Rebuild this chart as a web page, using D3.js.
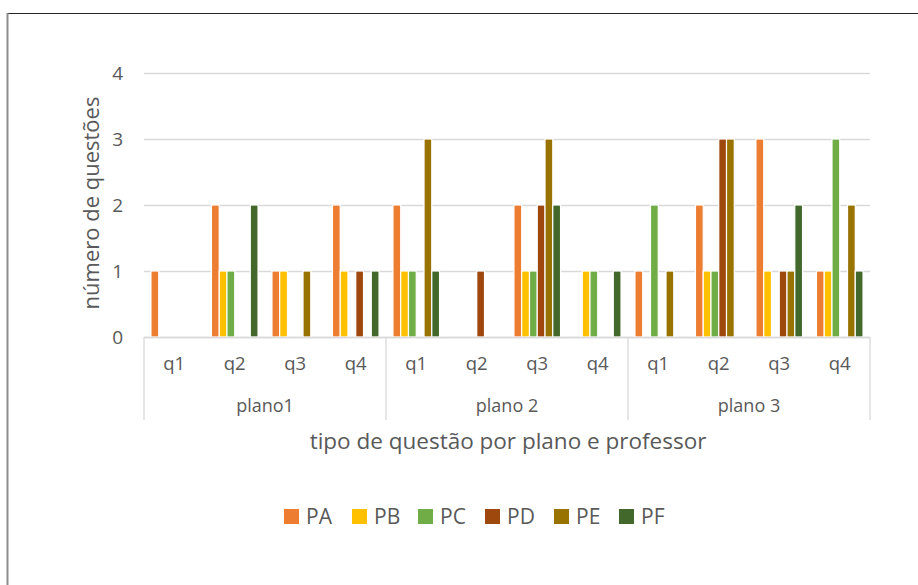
<!DOCTYPE html>
<html>
<head>
<meta charset="utf-8">
<script src="https://cdn.jsdelivr.net/npm/d3@7"></script>
<style>
  body { margin: 0; background: #fff; }
  text { font-family: "Open Sans", "Liberation Sans", sans-serif; fill: #595959; }
</style>
</head>
<body>
<div id="chart"></div>
<script>
// data
const planos = ["plano1", "plano 2", "plano 3"];
const questoes = ["q1", "q2", "q3", "q4"];
const professores = ["PA", "PB", "PC", "PD", "PE", "PF"];
const cores = ["#ED7D31", "#FFC000", "#70AD47", "#9E480E", "#997300", "#43682B"];

// one row per plano/questão, values in order PA..PF
const plano1 = [
  [1, 0, 0, 0, 0, 0],
  [2, 1, 1, 0, 0, 2],
  [1, 1, 0, 0, 1, 0],
  [2, 1, 0, 1, 0, 1]
];
const plano2 = [
  [2, 1, 1, 0, 3, 1],
  [0, 0, 0, 1, 0, 0],
  [2, 1, 1, 2, 3, 2],
  [0, 1, 1, 0, 0, 1]
];
const plano3 = [
  [1, 0, 2, 0, 1, 0],
  [2, 1, 1, 3, 3, 0],
  [3, 1, 0, 1, 1, 2],
  [1, 1, 3, 0, 2, 1]
];
const yTicks = [0, 1, 2, 3, 4];

const width = 918, height = 585;
const margin = { top: 73, right: 48, bottom: 248, left: 144 };
const plotW = width - margin.left - margin.right;
const plotH = height - margin.top - margin.bottom;

const svg = d3.select("#chart").append("svg")
  .attr("width", width)
  .attr("height", height);

// chart frame (only top and left edges show in the reference)
svg.append("line").attr("x1", 7).attr("x2", width).attr("y1", 13.5).attr("y2", 13.5)
  .attr("stroke", "#262626").attr("stroke-width", 1);
svg.append("line").attr("x1", 7.5).attr("x2", 7.5).attr("y1", 13).attr("y2", height)
  .attr("stroke", "#8c8c8c").attr("stroke-width", 2);

const g = svg.append("g").attr("transform", `translate(${margin.left},${margin.top})`);

// flatten into categories
const rows = [];
[plano1, plano2, plano3].forEach((p, pi) => {
  p.forEach((vals, qi) => {
    rows.push({ key: pi + "-" + qi, plano: planos[pi], q: questoes[qi], vals });
  });
});

const x0 = d3.scaleBand().domain(rows.map(d => d.key)).range([0, plotW])
  .paddingInner(0.23).paddingOuter(0.115);
const x1 = d3.scaleBand().domain(professores).range([0, x0.bandwidth()]);
const y = d3.scaleLinear().domain([0, 4]).range([plotH, 0]);
const color = d3.scaleOrdinal().domain(professores).range(cores);

// gridlines
g.append("g").selectAll("line").data(yTicks).join("line")
  .attr("x1", 0).attr("x2", plotW)
  .attr("y1", d => Math.round(y(d)) + 0.5).attr("y2", d => Math.round(y(d)) + 0.5)
  .attr("stroke", "#d9d9d9").attr("stroke-width", 1.3);

// y tick labels
g.append("g").selectAll("text").data(yTicks).join("text")
  .attr("x", -21).attr("y", d => y(d))
  .attr("dy", "0.35em")
  .attr("text-anchor", "end")
  .style("font-size", "19px")
  .text(d => d);

// bars
const groups = g.append("g").selectAll("g").data(rows).join("g")
  .attr("transform", d => `translate(${x0(d.key)},0)`);
groups.selectAll("rect")
  .data(d => d.vals.map((v, i) => ({ prof: professores[i], v })).filter(e => e.v > 0))
  .join("rect")
  .attr("x", d => x1(d.prof))
  .attr("y", d => y(d.v))
  .attr("width", x1.bandwidth())
  .attr("height", d => y(0) - y(d.v))
  .attr("fill", d => color(d.prof))
  .attr("stroke", "#fff")
  .attr("stroke-width", 1.2);

// category axis (two levels)
const stepQ = plotW / rows.length;
const axis = g.append("g").attr("transform", `translate(0,${plotH})`);
axis.append("line").attr("x1", 0).attr("x2", plotW).attr("y1", 0.5).attr("y2", 0.5)
  .attr("stroke", "#d9d9d9").attr("stroke-width", 1.3);
const seps = d3.range(planos.length + 1).map(i => i * plotW / planos.length);
axis.selectAll(".sep").data(seps).join("line")
  .attr("class", "sep")
  .attr("x1", d => d).attr("x2", d => d)
  .attr("y1", 0).attr("y2", 83)
  .attr("stroke", "#d9d9d9").attr("stroke-width", 1.3);
axis.selectAll(".ql").data(rows).join("text")
  .attr("class", "ql")
  .attr("x", (d, i) => stepQ * (i + 0.5))
  .attr("y", 27).attr("dy", "0.35em")
  .attr("text-anchor", "middle")
  .style("font-size", "18.5px")
  .text(d => d.q);
axis.selectAll(".pl").data(planos).join("text")
  .attr("class", "pl")
  .attr("x", (d, i) => (i + 0.5) * plotW / planos.length)
  .attr("y", 69).attr("dy", "0.35em")
  .attr("text-anchor", "middle")
  .style("font-size", "18px")
  .text(d => d);

// axis titles
svg.append("text")
  .attr("x", 508).attr("y", 441).attr("dy", "0.35em")
  .attr("text-anchor", "middle")
  .style("font-size", "22.5px")
  .text("tipo de questão por plano e professor");
svg.append("text")
  .attr("transform", "translate(91,203) rotate(-90)")
  .attr("dy", "0.35em")
  .attr("text-anchor", "middle")
  .style("font-size", "22px")
  .text("número de questões");

// legend
const legendX = [284, 352, 418, 485, 554, 619];
const legend = svg.append("g").selectAll("g").data(professores).join("g")
  .attr("transform", (d, i) => `translate(${legendX[i]},509)`);
legend.append("rect").attr("width", 15).attr("height", 15).attr("fill", d => color(d));
legend.append("text")
  .attr("x", 22).attr("y", 8).attr("dy", "0.35em")
  .style("font-size", "21px")
  .text(d => d);
</script>
</body>
</html>
